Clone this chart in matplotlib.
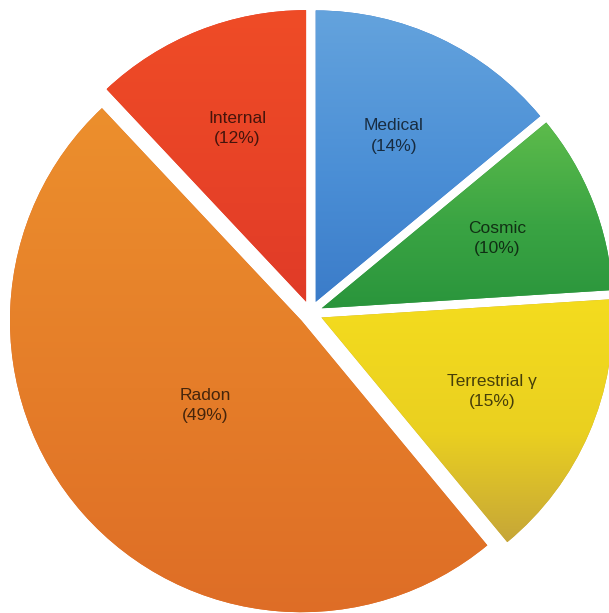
import numpy as np
import matplotlib
matplotlib.use("Agg")
import matplotlib.pyplot as plt
from matplotlib.colors import LinearSegmentedColormap

# Sources of radiation exposure, clockwise from 12 o'clock
sources = ["Medical", "Cosmic", "Terrestrial γ", "Radon", "Internal"]
shares = [14, 10, 15, 49, 12]

# Vertical gradient for each slice: colour at the top, colour at the bottom
top_colors = ["#64a3dd", "#5dbb4b", "#f4dc1e", "#ec8f2d", "#ef4c26"]
mid_colors = ["#4b8fd6", "#3aa443", "#ead020", "#e57d29", "#e84327"]
bottom_colors = ["#3b7cc9", "#2a953c", "#c6a638", "#de6d26", "#e03b28"]

# Radial position of each label (fraction of the radius)
label_radius = [0.67, 0.69, 0.68, 0.48, 0.68]

plt.rcParams["font.family"] = ["Liberation Sans", "DejaVu Sans"]

fig = plt.figure(figsize=(6.09, 6.13), dpi=100)
ax = fig.add_axes([0, 0, 1, 1])

wedges, _ = ax.pie(
    shares,
    startangle=90,
    counterclock=False,
    explode=[0.041] * len(shares),
    radius=1.0,
    center=(0, 0),
    wedgeprops=dict(linewidth=0),
)

for w, ct, cm, cb in zip(wedges, top_colors, mid_colors, bottom_colors):
    w.set_facecolor(cb)
    verts = w.get_path().vertices
    y0, y1 = verts[:, 1].min(), verts[:, 1].max()
    x0, x1 = verts[:, 0].min(), verts[:, 0].max()
    cmap = LinearSegmentedColormap.from_list("g", [(0, cb), (0.45, cm), (1, ct)])
    grad = np.linspace(0, 1, 256).reshape(-1, 1)
    im = ax.imshow(grad, cmap=cmap, aspect="auto", origin="lower",
                   extent=[x0, x1, y0, y1], interpolation="bilinear", zorder=2)
    im.set_clip_path(w)

ax.set_xlim(-1.065, 1.024)
ax.set_ylim(-1.029, 1.072)
ax.set_aspect("equal")
ax.axis("off")

for w, name, share, r in zip(wedges, sources, shares, label_radius):
    mid = np.deg2rad((w.theta1 + w.theta2) / 2)
    ax.text(r * np.cos(mid), r * np.sin(mid), f"{name}\n({share}%)",
            ha="center", va="center", fontsize=12.5, color="black",
            alpha=0.7, linespacing=1.45, zorder=3)

fig.savefig("out.png", dpi=100, facecolor="white")
